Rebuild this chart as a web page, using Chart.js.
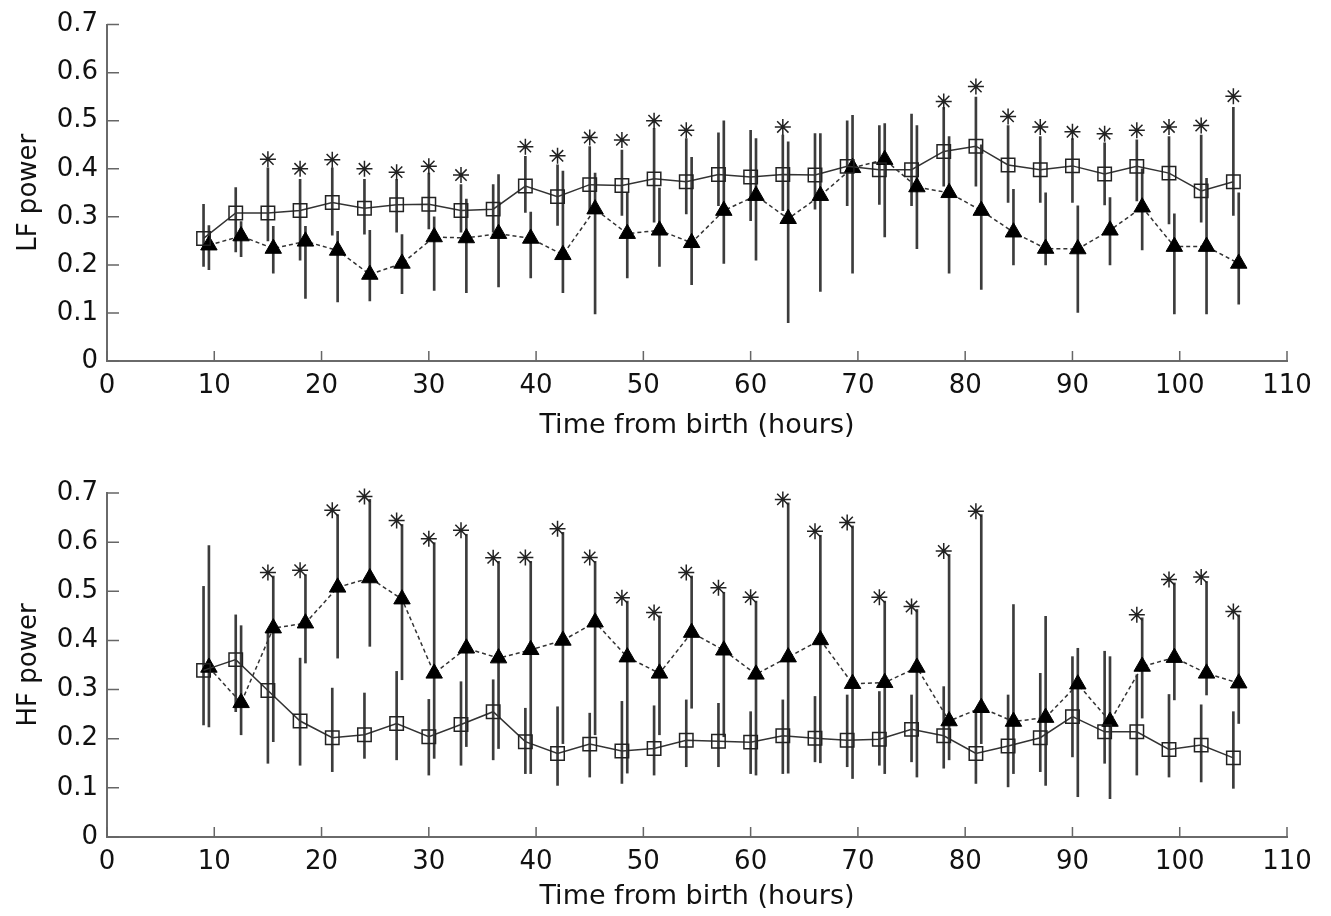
<!DOCTYPE html>
<html>
<head>
<meta charset="utf-8">
<script src="https://cdn.jsdelivr.net/npm/chart.js@4.4.1/dist/chart.umd.min.js"></script>
<style>
  body { margin: 0; background: #fff; }
  .panel { position: absolute; left: 0; width: 1331px; }
</style>
</head>
<body>
<div class="panel" style="top:0;height:445px"><canvas id="lf"></canvas></div>
<div class="panel" style="top:445px;height:471px"><canvas id="hf"></canvas></div>
<script>
// sample times (hours): squares at whole hours, triangles drawn half an hour later
let hours = [9, 12, 15, 18, 21, 24, 27, 30, 33, 36, 39, 42, 45, 48, 51, 54, 57,
  60, 63, 66, 69, 72, 75, 78, 81, 84, 87, 90, 93, 96, 99, 102, 105];
let triHours = [9.5, 12.5, 15.5, 18.5, 21.5, 24.5, 27.5, 30.5, 33.5, 36.5, 39.5, 42.5,
  45.5, 48.5, 51.5, 54.5, 57.5, 60.5, 63.5, 66.5, 69.5, 72.5, 75.5, 78.5, 81.5, 84.5,
  87.5, 90.5, 93.5, 96.5, 99.5, 102.5, 105.5];

let xTicks = [0, 10, 20, 30, 40, 50, 60, 70, 80, 90, 100, 110];
let yTicks = [0, 0.1, 0.2, 0.3, 0.4, 0.5, 0.6, 0.7];

// LF power
let lfSquare = [0.255, 0.308, 0.308, 0.313, 0.330, 0.318, 0.325, 0.326, 0.313, 0.316, 0.364,
  0.342, 0.367, 0.365, 0.379, 0.373, 0.388, 0.383, 0.388, 0.387, 0.405, 0.398, 0.398,
  0.436, 0.447, 0.408, 0.398, 0.406, 0.389, 0.405, 0.391, 0.354, 0.373];
let lfSquareLow = [0.197, 0.227, 0.250, 0.210, 0.262, 0.264, 0.268, 0.275, 0.268, 0.268, 0.309,
  0.282, 0.310, 0.303, 0.289, 0.306, 0.323, 0.292, 0.313, 0.316, 0.323, 0.326, 0.323,
  0.364, 0.364, 0.330, 0.330, 0.330, 0.325, 0.333, 0.285, 0.289, 0.303];
let lfSquareHigh = [0.326, 0.361, 0.402, 0.378, 0.402, 0.378, 0.378, 0.391, 0.367, 0.367, 0.426,
  0.408, 0.446, 0.439, 0.484, 0.463, 0.475, 0.480, 0.470, 0.473, 0.500, 0.490, 0.514,
  0.528, 0.549, 0.490, 0.467, 0.463, 0.454, 0.460, 0.467, 0.470, 0.528];
let lfTriangle = [0.241, 0.260, 0.234, 0.249, 0.230, 0.180, 0.203, 0.258, 0.256, 0.265, 0.255,
  0.221, 0.316, 0.265, 0.272, 0.246, 0.313, 0.344, 0.296, 0.344, 0.402, 0.419, 0.362,
  0.350, 0.313, 0.268, 0.234, 0.233, 0.272, 0.320, 0.238, 0.238, 0.203];
let lfTriangleLow = [0.190, 0.217, 0.183, 0.130, 0.123, 0.125, 0.140, 0.147, 0.142, 0.154, 0.173,
  0.142, 0.098, 0.173, 0.197, 0.159, 0.203, 0.210, 0.080, 0.145, 0.183, 0.258, 0.234,
  0.183, 0.149, 0.200, 0.200, 0.101, 0.200, 0.231, 0.098, 0.098, 0.118];
let lfTriangleHigh = [0.282, 0.290, 0.280, 0.280, 0.270, 0.272, 0.263, 0.300, 0.337, 0.388, 0.310,
  0.395, 0.391, 0.350, 0.360, 0.424, 0.500, 0.463, 0.456, 0.473, 0.511, 0.494, 0.490,
  0.467, 0.450, 0.357, 0.350, 0.323, 0.340, 0.400, 0.306, 0.380, 0.350];
let lfStarHours = [15, 18, 21, 24, 27, 30, 33, 39, 42, 45, 48, 51, 54, 63, 78, 81, 84, 87, 90,
  93, 96, 99, 102, 105];
let lfStar = [0.420, 0.400, 0.419, 0.400, 0.393, 0.405, 0.387, 0.446, 0.427, 0.465, 0.460,
  0.500, 0.480, 0.487, 0.540, 0.571, 0.509, 0.487, 0.477, 0.473, 0.480, 0.487, 0.490, 0.551];

// HF power
let hfSquare = [0.339, 0.361, 0.298, 0.236, 0.202, 0.208, 0.231, 0.204, 0.229, 0.255, 0.194,
  0.170, 0.189, 0.175, 0.180, 0.197, 0.195, 0.193, 0.206, 0.201, 0.197, 0.199, 0.219,
  0.206, 0.170, 0.185, 0.202, 0.245, 0.214, 0.214, 0.178, 0.187, 0.161];
let hfSquareLow = [0.228, 0.255, 0.150, 0.146, 0.133, 0.160, 0.157, 0.126, 0.146, 0.157, 0.129,
  0.105, 0.122, 0.109, 0.126, 0.143, 0.143, 0.129, 0.129, 0.153, 0.143, 0.146, 0.153,
  0.140, 0.109, 0.102, 0.133, 0.163, 0.150, 0.126, 0.122, 0.112, 0.099];
let hfSquareHigh = [0.510, 0.452, 0.420, 0.364, 0.303, 0.293, 0.337, 0.280, 0.316, 0.320, 0.262,
  0.265, 0.252, 0.276, 0.267, 0.279, 0.272, 0.255, 0.279, 0.286, 0.289, 0.296, 0.289,
  0.306, 0.252, 0.289, 0.333, 0.367, 0.378, 0.330, 0.290, 0.269, 0.255];
let hfTriangle = [0.345, 0.273, 0.425, 0.435, 0.508, 0.527, 0.484, 0.333, 0.384, 0.364, 0.381,
  0.400, 0.437, 0.366, 0.333, 0.416, 0.380, 0.331, 0.366, 0.401, 0.312, 0.314, 0.345,
  0.236, 0.263, 0.235, 0.243, 0.311, 0.235, 0.347, 0.365, 0.333, 0.313];
let hfTriangleLow = [0.224, 0.208, 0.194, 0.354, 0.364, 0.388, 0.320, 0.160, 0.184, 0.180, 0.129,
  0.190, 0.208, 0.130, 0.208, 0.262, 0.204, 0.126, 0.130, 0.151, 0.119, 0.129, 0.122,
  0.157, 0.190, 0.129, 0.105, 0.082, 0.078, 0.242, 0.279, 0.289, 0.231];
let hfTriangleHigh = [0.593, 0.430, 0.531, 0.534, 0.656, 0.687, 0.636, 0.599, 0.616, 0.561, 0.561,
  0.620, 0.561, 0.480, 0.450, 0.531, 0.498, 0.480, 0.680, 0.614, 0.633, 0.480, 0.463,
  0.575, 0.656, 0.473, 0.449, 0.384, 0.367, 0.446, 0.517, 0.520, 0.452];
let hfStarHours = [15, 18, 21, 24, 27, 30, 33, 36, 39, 42, 45, 48, 51, 54, 57, 60, 63, 66, 69,
  72, 75, 78, 81, 96, 99, 102, 105];
let hfStar = [0.538, 0.543, 0.665, 0.693, 0.644, 0.607, 0.624, 0.568, 0.569, 0.627, 0.569,
  0.487, 0.457, 0.538, 0.507, 0.488, 0.687, 0.622, 0.640, 0.488, 0.469, 0.582, 0.663,
  0.452, 0.524, 0.529, 0.459];

Chart.defaults.font.family = 'DejaVu Sans';
Chart.defaults.color = '#111';

// MATLAB style ticks pointing into the plot
const inwardTicks = {
  id: 'inwardTicks',
  afterDraw(chart) {
    const {ctx, chartArea: a, scales: {x, y}} = chart;
    ctx.save();
    ctx.strokeStyle = '#666';
    ctx.lineWidth = 1.5;
    ctx.beginPath();
    x.ticks.forEach(t => {
      const px = x.getPixelForValue(t.value);
      ctx.moveTo(px, a.bottom);
      ctx.lineTo(px, a.bottom - 10);
    });
    y.ticks.forEach(t => {
      const py = y.getPixelForValue(t.value);
      ctx.moveTo(a.left, py);
      ctx.lineTo(a.left + 12, py);
    });
    ctx.stroke();
    ctx.restore();
  }
};

function pairs(xs, ys) {
  return xs.map((h, i) => ({x: h, y: ys[i]}));
}

function ranges(xs, lo, hi) {
  return xs.map((h, i) => ({x: h, y: [lo[i], hi[i]]}));
}

function makePanel(id, title, top, axisHeight, d) {
  return new Chart(id, {
    type: 'bar',
    data: {
      datasets: [
        {
          type: 'bar', order: 3, grouped: false,
          data: ranges(hours, d.sqLow, d.sqHigh),
          backgroundColor: '#3c3c3c', barThickness: 2
        },
        {
          type: 'bar', order: 3, grouped: false,
          data: ranges(triHours, d.triLow, d.triHigh),
          backgroundColor: '#3c3c3c', barThickness: 2
        },
        {
          type: 'line', order: 1,
          data: pairs(hours, d.sq),
          borderColor: '#333', borderWidth: 1.5,
          pointStyle: 'rect', pointRadius: 9.5,
          pointBorderColor: '#222', pointBorderWidth: 1.5,
          pointBackgroundColor: 'rgba(0,0,0,0)'
        },
        {
          type: 'line', order: 1,
          data: pairs(triHours, d.tri),
          borderColor: '#333', borderWidth: 1.5, borderDash: [4, 3],
          pointStyle: 'triangle', pointRadius: 9.5,
          pointBorderColor: '#000', pointBorderWidth: 1,
          pointBackgroundColor: '#000'
        },
        {
          type: 'line', order: 2, showLine: false, clip: false,
          data: pairs(d.starHours, d.star),
          pointStyle: 'star', pointRadius: 8,
          pointBorderColor: '#222', pointBorderWidth: 1.5
        }
      ]
    },
    options: {
      responsive: true,
      maintainAspectRatio: false,
      animation: false,
      layout: { padding: { left: 0, right: 44, top: top, bottom: 0 } },
      plugins: { legend: false, tooltip: { enabled: false } },
      scales: {
        x: {
          type: 'linear', min: 0, max: 110, offset: false,
          afterBuildTicks: s => { s.ticks = xTicks.map(v => ({value: v})); },
          afterFit: s => { s.height = axisHeight; },
          grid: { display: true, drawOnChartArea: false, drawTicks: false, offset: false },
          border: { color: '#6a6a6a', width: 2 },
          ticks: { font: { size: 26 }, padding: 10, maxRotation: 0 },
          title: {
            display: true, text: 'Time from birth (hours)',
            font: { size: 27 }, padding: { top: 0, bottom: 3 }
          }
        },
        y: {
          min: 0, max: 0.7,
          afterBuildTicks: s => { s.ticks = yTicks.map(v => ({value: v})); },
          afterFit: s => { s.width = 107; },
          grid: { display: true, drawOnChartArea: false, drawTicks: false },
          border: { color: '#6a6a6a', width: 2 },
          ticks: { font: { size: 26 }, padding: 9, callback: v => String(+v.toFixed(1)) },
          title: {
            display: true, text: title,
            font: { size: 26 }, padding: { top: 14, bottom: 0 }
          }
        }
      }
    },
    plugins: [inwardTicks]
  });
}

makePanel('lf', 'LF power', 19, 84, {
  sq: lfSquare, sqLow: lfSquareLow, sqHigh: lfSquareHigh,
  tri: lfTriangle, triLow: lfTriangleLow, triHigh: lfTriangleHigh,
  starHours: lfStarHours, star: lfStar
});

makePanel('hf', 'HF power', 48, 79, {
  sq: hfSquare, sqLow: hfSquareLow, sqHigh: hfSquareHigh,
  tri: hfTriangle, triLow: hfTriangleLow, triHigh: hfTriangleHigh,
  starHours: hfStarHours, star: hfStar
});
</script>
</body>
</html>
